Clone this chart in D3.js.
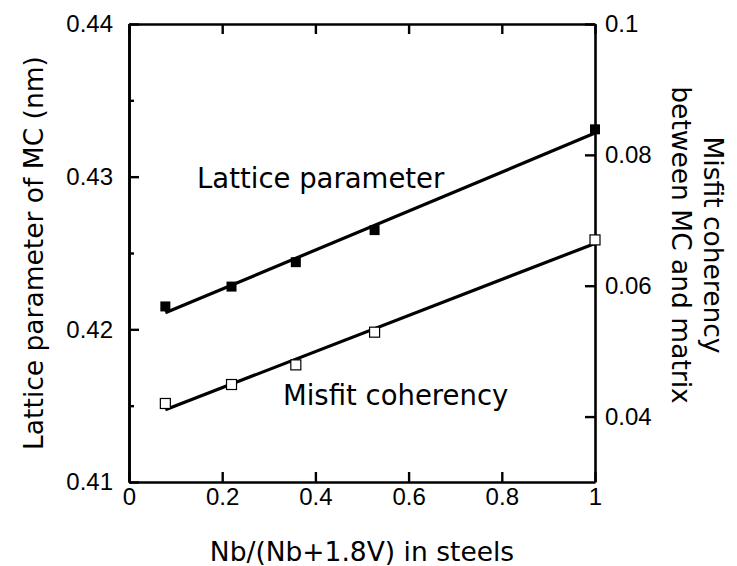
<!DOCTYPE html>
<html>
<head>
<meta charset="utf-8">
<script src="https://cdn.jsdelivr.net/npm/d3@7"></script>
<style>
body { margin:0; background:#fff; }
.axis path, .axis line { stroke:#000; }
.axis text { font-family:"Liberation Sans", Arial, sans-serif; font-size:24px; fill:#000; }
.label { font-family:"DejaVu Sans", sans-serif; font-size:26.5px; fill:#000; }
.inplot { font-size:27.5px; }
</style>
</head>
<body>
<svg class="graph1"></svg>
<script>
// data
var ratio = [0.078, 0.22, 0.358, 0.527, 1.0];
var lattice = [0.4215, 0.4228, 0.4244, 0.4265, 0.4331];
var misfit = [0.0420, 0.0449, 0.0479, 0.0529, 0.0670];

var xTicks = [0, 0.2, 0.4, 0.6, 0.8, 1];
var leftTicks = [0.41, 0.42, 0.43, 0.44];
var leftMinor = [0.415, 0.425, 0.435];
var rightTicks = [0.04, 0.06, 0.08, 0.1];

var makeTranslateString = function(x,y)
{
    return "translate("+x+","+y+")";
}

// least squares line through the points
var fitLine = function(xs, ys)
{
    var mx = d3.mean(xs), my = d3.mean(ys);
    var sxy = d3.sum(xs, function(x,i){ return (x-mx)*(ys[i]-my); });
    var sxx = d3.sum(xs, function(x){ return (x-mx)*(x-mx); });
    var b = sxy/sxx;
    var a = my - b*mx;
    var x0 = d3.min(xs), x1 = d3.max(xs);
    return [[x0, a+b*x0], [x1, a+b*x1]];
}

var screen = {width:737, height:566};
var margins = {left:129, right:142, top:24, bottom:84};
var graph = {
    width: screen.width-margins.left-margins.right,
    height: screen.height-margins.top-margins.bottom
};

var svg = d3.select(".graph1")
    .attr("width", screen.width)
    .attr("height", screen.height);

var target = svg.append("g")
    .attr("transform", makeTranslateString(margins.left, margins.top));

var xScale = d3.scaleLinear().domain([0,1]).range([0,graph.width]);
var yLeft = d3.scaleLinear().domain([0.41,0.44]).range([graph.height,0]);
var yRight = d3.scaleLinear().domain([0.03,0.1]).range([graph.height,0]);

var fmt = function(d){ return String(+d.toFixed(3)); };

// axes, ticks pointing inward
target.append("g").classed("axis", true)
    .attr("transform", makeTranslateString(0, graph.height))
    .call(d3.axisBottom(xScale).tickValues(xTicks).tickSize(-10).tickSizeOuter(0).tickPadding(6).tickFormat(fmt));

target.append("g").classed("axis", true)
    .call(d3.axisTop(xScale).tickValues(xTicks).tickSize(-10).tickSizeOuter(0).tickFormat(""));

target.append("g").classed("axis", true)
    .call(d3.axisLeft(yLeft).tickValues(leftTicks).tickSize(-10).tickSizeOuter(0).tickPadding(16).tickFormat(fmt));

target.append("g").classed("axis", true)
    .call(d3.axisLeft(yLeft).tickValues(leftMinor).tickSize(-5).tickSizeOuter(0).tickFormat(""));

target.append("g").classed("axis", true)
    .attr("transform", makeTranslateString(graph.width, 0))
    .call(d3.axisRight(yRight).tickValues(rightTicks).tickSize(-10).tickSizeOuter(0).tickPadding(10).tickFormat(fmt));

target.selectAll(".axis path").attr("stroke-width", 2.6);
target.selectAll(".axis line").attr("stroke-width", 2.4);

// fitted lines
var line = d3.line()
    .x(function(d){ return xScale(d[0]); });

var fitL = fitLine(ratio, lattice);
var fitM = fitLine(ratio, misfit);

target.append("path")
    .attr("d", line.y(function(d){ return yLeft(d[1]); })(fitL))
    .attr("fill","none").attr("stroke","#000").attr("stroke-width",3.2);

target.append("path")
    .attr("d", line.y(function(d){ return yRight(d[1]); })(fitM))
    .attr("fill","none").attr("stroke","#000").attr("stroke-width",3.2);

var size = 10;
target.selectAll(".lat")
    .data(ratio)
    .enter()
    .append("rect")
    .attr("x", function(d){ return xScale(d)-size/2; })
    .attr("y", function(d,i){ return yLeft(lattice[i])-size/2; })
    .attr("width", size).attr("height", size)
    .attr("fill","#000");

target.selectAll(".mis")
    .data(ratio)
    .enter()
    .append("rect")
    .attr("x", function(d){ return xScale(d)-size/2; })
    .attr("y", function(d,i){ return yRight(misfit[i])-size/2; })
    .attr("width", size).attr("height", size)
    .attr("fill","#fff").attr("stroke","#000").attr("stroke-width",1.2);

// labels
var labels = svg.append("g");

labels.append("text").classed("label inplot", true)
    .attr("x", 197).attr("y", 188)
    .text("Lattice parameter");

labels.append("text").classed("label inplot", true)
    .attr("x", 283).attr("y", 405)
    .text("Misfit coherency");

labels.append("text").classed("label", true)
    .attr("text-anchor","middle")
    .attr("x", margins.left+graph.width/2).attr("y", 561)
    .text("Nb/(Nb+1.8V) in steels");

labels.append("g")
    .attr("transform", makeTranslateString(43, margins.top+graph.height/2))
    .append("text").classed("label", true)
    .attr("text-anchor","middle")
    .attr("transform","rotate(-90)")
    .text("Lattice parameter of MC (nm)");

var right = labels.append("g")
    .attr("transform", makeTranslateString(704, 245))
    .append("text").classed("label", true)
    .attr("text-anchor","middle")
    .attr("transform","rotate(90)");
right.append("tspan").attr("x",0).attr("dy",0).text("Misfit coherency");
right.append("tspan").attr("x",0).attr("dy",32).text("between MC and matrix");
</script>
</body>
</html>
